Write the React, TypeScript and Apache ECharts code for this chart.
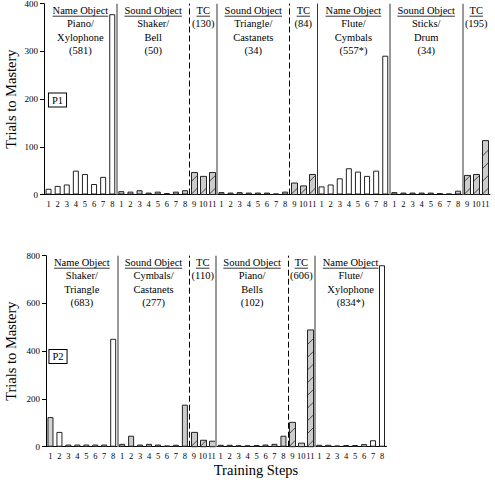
import React, { useEffect, useRef } from 'react';
import * as echarts from 'echarts';

const FONT = "'Liberation Serif', 'Times New Roman', serif";

// Step labels
const objectSteps = ['1', '2', '3', '4', '5', '6', '7', '8'];
const tcSteps = ['9', '10', '11'];

// ---------- P1 ----------
const p1Phases = ['Name Object', 'Sound Object', 'TC', 'Sound Object', 'TC', 'Name Object', 'Sound Object', 'TC'];
const p1Stimuli = [['Piano/', 'Xylophone'], ['Shaker/', 'Bell'], [], ['Triangle/', 'Castanets'], [], ['Flute/', 'Cymbals'], ['Sticks/', 'Drum'], []];
const p1Totals = ['(581)', '(50)', '(130)', '(34)', '(84)', '(557*)', '(34)', '(195)'];
const p1NameObject1 = [12, 18, 21, 50, 43, 22, 37, 378];
const p1SoundObject1 = [7, 6, 9, 4, 6, 3, 6, 9];
const p1TC1 = [46, 38, 46];
const p1SoundObject2 = [5, 4, 5, 4, 4, 4, 2, 6];
const p1TC2 = [24, 18, 42];
const p1NameObject2 = [17, 21, 34, 55, 48, 39, 50, 291];
const p1SoundObject3 = [5, 4, 4, 4, 4, 3, 2, 8];
const p1TC3 = [40, 42, 113];
const p1Values = [p1NameObject1, p1SoundObject1, p1TC1, p1SoundObject2, p1TC2, p1NameObject2, p1SoundObject3, p1TC3];
// divider style before groups 2..n
const p1Dividers = ['solid', 'dashed', 'solid', 'dashed', 'dark', 'solid', 'solid'];

// ---------- P2 ----------
const p2Phases = ['Name Object', 'Sound Object', 'TC', 'Sound Object', 'TC', 'Name Object'];
const p2Stimuli = [['Shaker/', 'Triangle'], ['Cymbals/', 'Castanets'], [], ['Piano/', 'Bells'], [], ['Flute/', 'Xylophone']];
const p2Totals = ['(683)', '(277)', '(110)', '(102)', '(606)', '(834*)'];
const p2NameObject1 = [124, 62, 9, 9, 9, 9, 9, 452];
const p2SoundObject1 = [12, 46, 9, 12, 9, 5, 8, 176];
const p2TC1 = [60, 27, 23];
const p2SoundObject2 = [8, 8, 6, 6, 7, 9, 12, 46];
const p2TC2 = [102, 15, 489];
const p2NameObject2 = [8, 8, 5, 7, 7, 11, 27, 760];
const p2Values = [p2NameObject1, p2SoundObject1, p2TC1, p2SoundObject2, p2TC2, p2NameObject2];
const p2Dividers = ['solid', 'dashed', 'solid', 'dashed', 'solid'];

const measure = (() => {
  const c = document.createElement('canvas').getContext('2d');
  return (text: string, size: number) => {
    if (!c) return text.length * size * 0.48;
    c.font = `${size}px 'Liberation Serif'`;
    return c.measureText(text).width;
  };
})();

const HEAD_SIZE = 10.5;
const LINE_H = 13.2;
const BAR_W = 6;
const HATCH_STEP = 12.7;

function dividerStyle(kind: string) {
  if (kind === 'dashed') return { color: '#000', width: 1, type: [6, 3] as any };
  if (kind === 'dark') return { color: '#333', width: 1, type: 'solid' };
  return { color: '#999', width: 2, type: 'solid' };
}

function hatchRender(params: any, api: any) {
  const i = api.value(0);
  const v = api.value(1);
  const top = api.coord([i, v]);
  const bot = api.coord([i, 0]);
  const x = Math.round(top[0] - BAR_W / 2) + 0.5;
  const yTop = top[1];
  const yBot = bot[1];
  const children: any[] = [
    {
      type: 'rect',
      shape: { x, y: yTop, width: BAR_W, height: yBot - yTop },
      style: { fill: '#cccccc', stroke: '#222', lineWidth: 1 },
    },
  ];
  for (let y = yBot - 0.5; y - BAR_W >= yTop - 1; y -= HATCH_STEP) {
    children.push({
      type: 'line',
      shape: { x1: x, y1: y, x2: x + BAR_W, y2: y - BAR_W },
      style: { stroke: '#222', lineWidth: 0.8 },
    });
  }
  return { type: 'group', children };
}

function buildPanel(
  idx: number, tag: string, phases: string[], stimuli: string[][], totals: string[], values: number[][],
  dividers: string[], layout: { left: number; top: number; catW: number; height: number; yMax: number; yInt: number; box: [number, number]; nameGap: number }
) {
  const cats: string[] = [];
  const starts: number[] = [];
  phases.forEach((p) => {
    starts.push(cats.length);
    (p === 'TC' ? tcSteps : objectSteps).forEach((s) => cats.push(s));
  });
  const n = cats.length;
  const seriesFor = (kind: string) => {
    const out: any[] = [];
    phases.forEach((p, g) => {
      values[g].forEach((v) => out.push(p === kind ? v : '-'));
    });
    return out;
  };
  const xCat = idx * 2;
  const xVal = idx * 2 + 1;
  const common = { type: 'bar', xAxisIndex: xCat, yAxisIndex: idx, barWidth: BAR_W, barGap: '-100%', silent: true };
  const nameData = seriesFor('Name Object');
  const tcData: any[] = [];
  seriesFor('TC').forEach((v, i) => {
    if (v !== '-') tcData.push([i, v]);
  });
  const series: any[] = [
    {
      ...common,
      name: tag + ' Name Object',
      data: nameData.map((v, i) =>
        tag === 'P2' && i === 0 ? { value: v, itemStyle: { color: '#d4d4d4' } } : v
      ),
      itemStyle: { color: '#fff', borderColor: '#222', borderWidth: 1 },
    },
    {
      ...common,
      name: tag + ' Sound Object',
      data: seriesFor('Sound Object'),
      itemStyle: { color: '#cccccc', borderColor: '#222', borderWidth: 1 },
    },
    {
      type: 'custom',
      name: tag + ' TC',
      xAxisIndex: xCat,
      yAxisIndex: idx,
      silent: true,
      data: tcData,
      renderItem: hatchRender,
    },
    {
      type: 'line',
      name: tag + ' dividers',
      xAxisIndex: xVal,
      yAxisIndex: idx,
      data: [],
      silent: true,
      markLine: {
        silent: true,
        symbol: ['none', 'none'],
        label: { show: false },
        animation: false,
        data: dividers.map((kind, k) => ({ xAxis: starts[k + 1], lineStyle: dividerStyle(kind) })),
      },
    },
  ];

  const graphics: any[] = [];
  phases.forEach((p, g) => {
    const len = (p === 'TC' ? tcSteps : objectSteps).length;
    const cx = layout.left + (starts[g] + len / 2) * layout.catW;
    const y0 = layout.top + 7;
    const lines = [p === 'TC' ? 'TC' : p, ...stimuli[g], totals[g]];
    lines.forEach((t, li) => {
      graphics.push({
        type: 'text',
        silent: true,
        style: {
          text: t,
          x: cx,
          y: y0 + li * LINE_H,
          align: 'center',
          verticalAlign: 'middle',
          fontSize: HEAD_SIZE,
          fontFamily: FONT,
          fill: '#000',
        },
      });
    });
    const w = measure(lines[0], HEAD_SIZE);
    graphics.push({
      type: 'line',
      silent: true,
      shape: { x1: cx - w / 2, y1: y0 + 5.5, x2: cx + w / 2, y2: y0 + 5.5 },
      style: { stroke: '#000', lineWidth: 0.8 },
    });
  });
  graphics.push({
    type: 'text',
    silent: true,
    style: {
      text: tag,
      x: layout.box[0],
      y: layout.box[1],
      align: 'center',
      verticalAlign: 'middle',
      fontSize: HEAD_SIZE,
      fontFamily: FONT,
      fill: '#000',
      borderColor: '#000',
      borderWidth: 1,
      padding: [1, 3, 1, 3],
      backgroundColor: '#fff',
    },
  });

  const grid = {
    left: layout.left,
    top: layout.top,
    width: n * layout.catW,
    height: layout.height,
    containLabel: false,
    outerBoundsMode: 'none',
  };
  const xAxes = [
    {
      type: 'category',
      gridIndex: idx,
      data: cats,
      boundaryGap: true,
      axisLine: { lineStyle: { color: '#000', width: 1 } },
      axisTick: { alignWithLabel: true, interval: 0, length: 3, lineStyle: { color: '#000' } },
      axisLabel: { interval: 0, fontSize: 8.5, color: '#000', margin: 5, fontFamily: FONT },
      splitLine: { show: false },
    },
    { type: 'value', gridIndex: idx, min: 0, max: n, show: false, splitLine: { show: false } },
  ];
  const yAxis = {
    type: 'value',
    gridIndex: idx,
    min: 0,
    max: layout.yMax,
    interval: layout.yInt,
    axisLine: { show: true, lineStyle: { color: '#000' } },
    axisTick: { show: true, length: 4, lineStyle: { color: '#000' } },
    splitLine: { show: false },
    axisLabel: { fontSize: 9, color: '#000', margin: 6, fontFamily: FONT },
    name: 'Trials to Mastery',
    nameLocation: 'middle',
    nameGap: layout.nameGap,
    nameMoveOverlap: false,
    nameTextStyle: { fontSize: 14.5, color: '#000', fontFamily: FONT },
  };
  return { grid, xAxes, yAxis, series, graphics };
}

export default function App() {
  const ref = useRef<HTMLDivElement>(null);
  useEffect(() => {
    document.body.style.margin = '0';
    if (!ref.current) return;
    const chart = echarts.init(ref.current, null, { renderer: 'svg' });
    const a = buildPanel(0, 'P1', p1Phases, p1Stimuli, p1Totals, p1Values, p1Dividers, {
      left: 44, top: 3.7, catW: 9.1, height: 190.8, yMax: 400, yInt: 100, box: [57.5, 100], nameGap: 26,
    });
    const b = buildPanel(1, 'P2', p2Phases, p2Stimuli, p2Totals, p2Values, p2Dividers, {
      left: 46, top: 255.7, catW: 8.96, height: 191, yMax: 800, yInt: 200, box: [58, 356.5], nameGap: 28,
    });
    chart.setOption({
      animation: false,
      textStyle: { fontFamily: FONT },
      grid: [a.grid, b.grid],
      xAxis: [...a.xAxes, ...b.xAxes],
      yAxis: [a.yAxis, b.yAxis],
      series: [...a.series, ...b.series],
      graphic: [
        ...a.graphics,
        ...b.graphics,
        {
          type: 'text',
          silent: true,
          style: {
            text: 'Training Steps',
            x: 256,
            y: 470,
            align: 'center',
            verticalAlign: 'middle',
            fontSize: 14.5,
            fontFamily: FONT,
            fill: '#000',
          },
        },
      ],
    });
    return () => chart.dispose();
  }, []);
  return <div ref={ref} style={{ width: 495, height: 489 }} />;
}
